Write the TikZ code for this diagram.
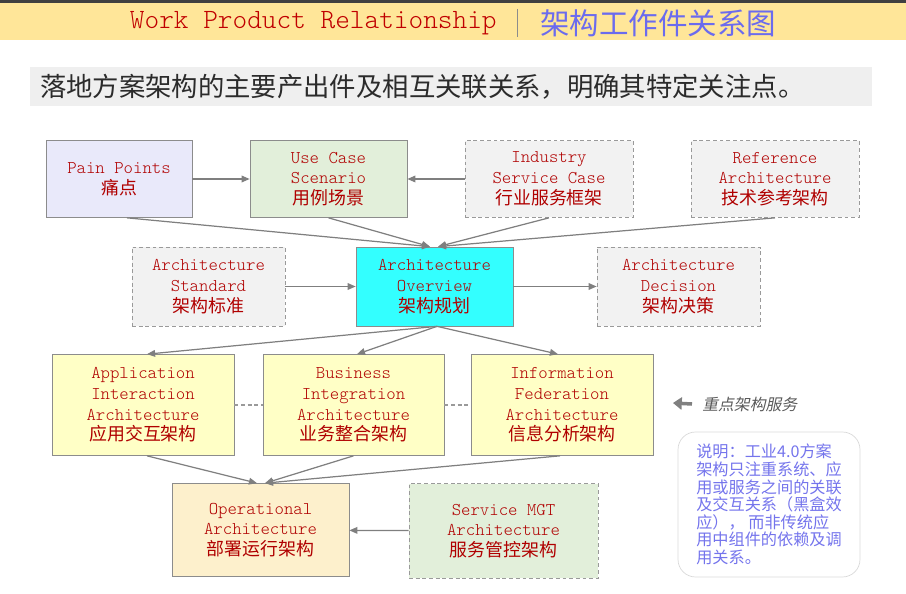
\documentclass[tikz,border=0pt]{standalone}
\usepackage{fontspec}
\usepackage{xcolor}
\usepackage{tikz}
\usetikzlibrary{arrows.meta,positioning}

\setmonofont{Latin Modern Mono Light}
\newfontfamily\cjk{Noto Sans CJK SC}
\newfontfamily\cjkslant[FakeSlant=0.2]{Noto Sans CJK SC}

\definecolor{bannerfill}{HTML}{FFE699}
\definecolor{bannerline}{HTML}{404040}
\definecolor{titlered}{HTML}{C00000}
\definecolor{titleblue}{HTML}{6B6BEE}
\definecolor{subfill}{HTML}{EFEFEF}
\definecolor{subtext}{HTML}{2B2B2B}
\definecolor{boxred}{HTML}{B00000}
\definecolor{linegray}{HTML}{8C8C8C}
\definecolor{dashgray}{HTML}{9A9A9A}
\definecolor{arrowgray}{HTML}{7F7F7F}
\definecolor{painfill}{HTML}{E9E9FA}
\definecolor{greenfill}{HTML}{E2EFDA}
\definecolor{reffill}{HTML}{F2F2F2}
\definecolor{corefill}{HTML}{33FFFF}
\definecolor{yellowfill}{HTML}{FFFFC6}
\definecolor{opfill}{HTML}{FDF0CC}
\definecolor{notetext}{HTML}{7474EC}
\definecolor{noteline}{HTML}{D9D9D9}
\definecolor{focusgray}{HTML}{595959}

\begin{document}
\begin{tikzpicture}[
  x=0.02cm, y=-0.02cm,
  box/.style={draw=linegray, align=center, inner sep=1pt, text=boxred, font=\fontsize{10.2}{11.8}\selectfont\ttfamily},
  given/.style={box, draw=dashgray, fill=reffill, dash pattern=on 2.2pt off 1.6pt},
  arr/.style={-{Triangle[length=4.6pt,width=3.8pt]}, draw=arrowgray, line width=0.7pt},
  peer/.style={draw=dashgray, line width=0.6pt, dash pattern=on 2.2pt off 1.6pt},
  fatarr/.style={-{Triangle[length=5pt,width=7pt]}, draw=gray, line width=2pt}
]
\useasboundingbox (0,0) rectangle (906,594);

% title banner
\fill[bannerfill] (0,3) rectangle (906,40);
\fill[bannerline] (0,0) rectangle (906,3);
\node[anchor=east, inner sep=0pt, text=titlered, font=\fontsize{15.9}{17}\selectfont\ttfamily] (titleen) at (497,23) {Work Product Relationship};
\node[anchor=west, inner sep=0pt, text=titleblue, font=\fontsize{16.8}{17}\selectfont\cjk] (titlecn) at (540,23) {架构工作件关系图};
\draw[linegray, line width=0.5pt] (517,9) -- (517,37);

% subtitle
\node[fill=subfill, minimum width=16.84cm, minimum height=0.78cm, text width=16.44cm, inner xsep=0.2cm, align=left, text=subtext, font=\fontsize{15}{16}\selectfont\cjk] (sub) at (451,86.5) {落地方案架构的主要产出件及相互关联关系，明确其特定关注点。};

% top row
\node[box, fill=painfill, minimum width=2.92cm, minimum height=1.54cm] (pain) at (119,179) {Pain Points\\{\cjk 痛点}};
\node[box, fill=greenfill, minimum width=3.14cm, minimum height=1.54cm] (usecase) at (328.5,179) {Use Case\\Scenario\\{\cjk 用例场景}};
\node[given, minimum width=3.36cm, minimum height=1.54cm] (industry) at (549,179) {Industry\\Service Case\\{\cjk 行业服务框架}};
\node[given, minimum width=3.36cm, minimum height=1.54cm] (reference) at (775,179) {Reference\\Architecture\\{\cjk 技术参考架构}};

% middle row
\node[given, minimum width=3.06cm, minimum height=1.58cm] (standard) at (208.5,286.5) {Architecture\\Standard\\{\cjk 架构标准}};
\node[box, fill=corefill, minimum width=3.14cm, minimum height=1.58cm] (overview) at (434.5,286.5) {Architecture\\Overview\\{\cjk 架构规划}};
\node[given, minimum width=3.26cm, minimum height=1.58cm] (decision) at (678.5,286.5) {Architecture\\Decision\\{\cjk 架构决策}};

% key architecture services
\node[box, fill=yellowfill, minimum width=3.64cm, minimum height=2.02cm] (application) at (143,405) {Application\\Interaction\\Architecture\\{\cjk 应用交互架构}};
\node[box, fill=yellowfill, minimum width=3.62cm, minimum height=2.02cm] (business) at (353.5,405) {Business\\Integration\\Architecture\\{\cjk 业务整合架构}};
\node[box, fill=yellowfill, minimum width=3.64cm, minimum height=2.02cm] (information) at (562,405) {Information\\Federation\\Architecture\\{\cjk 信息分析架构}};

% bottom row
\node[box, fill=opfill, minimum width=3.54cm, minimum height=1.86cm] (operational) at (260.5,530) {Operational\\Architecture\\{\cjk 部署运行架构}};
\node[given, fill=greenfill, minimum width=3.78cm, minimum height=1.9cm] (service) at (503.5,531) {Service MGT\\Architecture\\{\cjk 服务管控架构}};

% side notes
\node[anchor=west, inner sep=0pt, text=focusgray, font=\fontsize{9}{10}\selectfont\cjkslant] (focus) at (702,404) {重点架构服务};
\coordinate (focustip) at (673,403);
\node[draw=noteline, rounded corners=0.35cm, minimum width=3.64cm, minimum height=2.9cm, align=left, text=notetext, font=\fontsize{9.2}{10}\selectfont\cjk] (note) at (769,504.5) {说明：工业4.0方案\\架构只注重系统、应\\用或服务之间的关联\\及交互关系（黑盒效\\应）， 而非传统应\\用中组件的依赖及调\\用关系。};

% connectors
\draw[arr] (pain) -- (usecase);
\draw[arr] (industry) -- (usecase);
\draw[arr] ([xshift=0.16cm]pain.south) -- ([xshift=-0.09cm]overview.north);
\draw[arr] (usecase.south) -- ([xshift=-0.09cm]overview.north);
\draw[arr] (industry.south) -- ([xshift=0.07cm]overview.north);
\draw[arr] (reference.south) -- ([xshift=0.07cm]overview.north);
\draw[arr] (standard) -- (overview);
\draw[arr] (overview) -- (decision);
\draw[arr] ([xshift=0.05cm]overview.south) -- ([xshift=0.08cm]application.north);
\draw[arr] ([xshift=0.05cm]overview.south) -- ([xshift=0.07cm]business.north);
\draw[arr] ([xshift=0.05cm]overview.south) -- ([xshift=-0.08cm]information.north);
\draw[peer] (application) -- (business);
\draw[peer] (business) -- (information);
\draw[arr] ([xshift=0.08cm]application.south) -- ([xshift=-0.07cm]operational.north);
\draw[arr] (business.south) -- ([xshift=0.09cm]operational.north);
\draw[arr] ([xshift=-0.04cm]information.south) -- ([xshift=0.09cm]operational.north);
\draw[arr] (service) -- (operational);
\draw[fatarr] ([xshift=-0.2cm]focus.west) -- (focustip);
\end{tikzpicture}
\end{document}
